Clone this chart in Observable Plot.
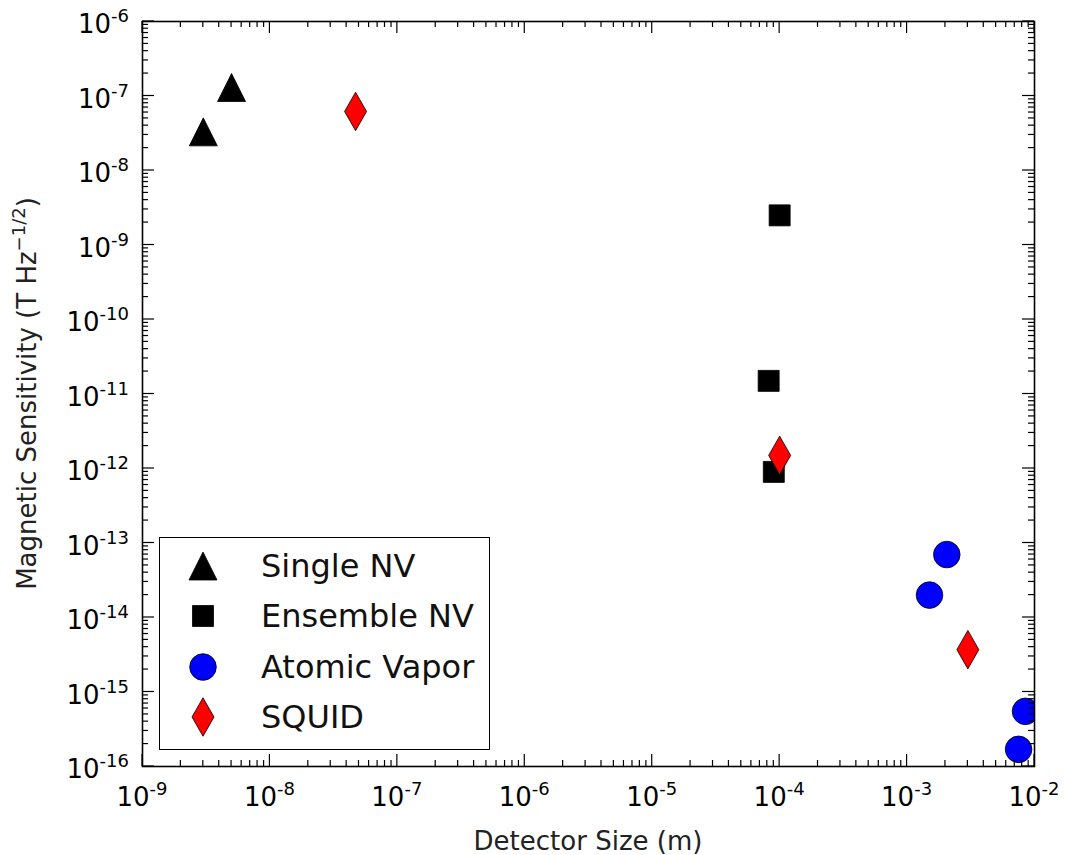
<!DOCTYPE html>
<html>
<head>
<meta charset="utf-8">
<script src="https://cdn.jsdelivr.net/npm/d3@7"></script>
<script src="https://cdn.jsdelivr.net/npm/@observablehq/plot@0.6"></script>
<style>
  body { margin: 0; background: #fff; font-family: "DejaVu Sans", sans-serif; }
  #wrap { position: relative; width: 1065px; height: 855px; }
  #legend { position: absolute; left: 159px; top: 537px; width: 331px; height: 213px;
            box-sizing: border-box; border: 1.5px solid #000; background: #fff; }
</style>
</head>
<body>
<div id="wrap"><div id="legend"></div></div>
<script>
// ---------------- data ----------------
const seriesNames = ["Single NV", "Ensemble NV", "Atomic Vapor", "SQUID"];
const singleX   = [3.0e-9, 5.0e-9];
const singleY   = [3.3e-8, 1.3e-7];
const ensembleX = [1.0e-4, 8.2e-5, 9.0e-5];
const ensembleY = [2.5e-9, 1.5e-11, 9.0e-13];
const vaporX    = [2.05e-3, 1.5e-3, 8.5e-3, 7.5e-3];
const vaporY    = [7.0e-14, 2.0e-14, 5.5e-16, 1.7e-16];
const squidX    = [4.7e-8, 1.0e-4, 3.0e-3];
const squidY    = [6.2e-8, 1.5e-12, 3.7e-15];
const xExponents = [-9, -8, -7, -6, -5, -4, -3, -2];
const yExponents = [-16, -15, -14, -13, -12, -11, -10, -9, -8, -7, -6];
const xLabel = "Detector Size (m)";
const yLabelMain = "Magnetic Sensitivity (T Hz";
const yLabelSup = "\u22121/2";

const toRows = (xs, ys) => xs.map((x, i) => ({x, y: ys[i]}));
const single = toRows(singleX, singleY);
const ensemble = toRows(ensembleX, ensembleY);
const vapor = toRows(vaporX, vaporY);
const squid = toRows(squidX, squidY);

// ---------------- symbols (matplotlib-like) ----------------
const rad = (size) => Math.sqrt(size / Math.PI);
const triangleSym = {draw(c, size) { const r = rad(size); c.moveTo(0, -r); c.lineTo(r, r); c.lineTo(-r, r); c.closePath(); }};
const squareSym   = {draw(c, size) { const r = rad(size); c.rect(-r, -r, 2 * r, 2 * r); }};
const circleSym   = {draw(c, size) { const r = rad(size); c.moveTo(r, 0); c.arc(0, 0, r, 0, 2 * Math.PI); }};
const diamondSym  = {draw(c, size) { const r = rad(size); c.moveTo(0, -1.75 * r); c.lineTo(r, 0); c.lineTo(0, 1.75 * r); c.lineTo(-r, 0); c.closePath(); }};
const styles = [
  {sym: triangleSym, r: 14,   fill: "#000000"},
  {sym: squareSym,   r: 10.5, fill: "#000000"},
  {sym: circleSym,   r: 13.3, fill: "#0000ff"},
  {sym: diamondSym,  r: 11,   fill: "#ff0000"}
];

// ---------------- ticks ----------------
const xMajor = xExponents.map(e => Math.pow(10, e));
const yMajor = yExponents.map(e => Math.pow(10, e));
const minorOf = (exps) => exps.slice(0, -1).flatMap(e => d3.range(2, 10).map(k => k * Math.pow(10, e)));
const xMinor = minorOf(xExponents);
const yMinor = minorOf(yExponents);

const FONT = "DejaVu Sans";
function axesMark(index, scales, values, dim) {
  const {x, y} = scales;
  const L = dim.marginLeft, R = dim.width - dim.marginRight;
  const T = dim.marginTop, B = dim.height - dim.marginBottom;
  const g = d3.create("svg:g");
  const t = g.append("g").attr("stroke", "#000").attr("stroke-width", 1.2);
  const MAJ = 12, MIN = 6;
  const vt = (v, len) => {
    const px = x(v);
    t.append("line").attr("x1", px).attr("x2", px).attr("y1", B).attr("y2", B - len);
    t.append("line").attr("x1", px).attr("x2", px).attr("y1", T).attr("y2", T + len);
  };
  const ht = (v, len) => {
    const py = y(v);
    t.append("line").attr("y1", py).attr("y2", py).attr("x1", L).attr("x2", L + len);
    t.append("line").attr("y1", py).attr("y2", py).attr("x1", R).attr("x2", R - len);
  };
  xMajor.forEach(v => vt(v, MAJ)); xMinor.forEach(v => vt(v, MIN));
  yMajor.forEach(v => ht(v, MAJ)); yMinor.forEach(v => ht(v, MIN));

  const lab = g.append("g").attr("font-family", FONT).attr("fill", "#000");
  xExponents.forEach(e => {
    const tx = lab.append("text").attr("x", x(Math.pow(10, e))).attr("y", B + 40)
      .attr("text-anchor", "middle").attr("font-size", 26);
    tx.append("tspan").text("10");
    tx.append("tspan").attr("dy", -11).attr("font-size", 18).text(String(e));
  });
  yExponents.forEach(e => {
    const tx = lab.append("text").attr("x", L - 13).attr("y", y(Math.pow(10, e)) + 12)
      .attr("text-anchor", "end").attr("font-size", 26);
    tx.append("tspan").text("10");
    tx.append("tspan").attr("dy", -11).attr("font-size", 18).text(String(e));
  });
  lab.append("text").attr("x", (L + R) / 2).attr("y", dim.height - 5)
    .attr("text-anchor", "middle").attr("font-size", 26).attr("fill", "#222").text(xLabel);
  const yl = lab.append("text").attr("transform", `translate(${L - 106},${(T + B) / 2}) rotate(-90)`)
    .attr("text-anchor", "middle").attr("font-size", 26).attr("fill", "#222");
  yl.append("tspan").text(yLabelMain);
  yl.append("tspan").attr("dy", -11).attr("font-size", 18).text(yLabelSup);
  yl.append("tspan").attr("dy", 11).text(")");
  return g.node();
}

const dots = [single, ensemble, vapor, squid].map((d, i) =>
  Plot.dot(d, {x: "x", y: "y", symbol: styles[i].sym, r: styles[i].r, fill: styles[i].fill,
               stroke: "#000", strokeWidth: 0.8, clip: true}));

const chart = Plot.plot({
  width: 1065,
  height: 855,
  marginLeft: 142,
  marginRight: 31,
  marginTop: 21,
  marginBottom: 89,
  style: {background: "#fff", fontFamily: FONT},
  x: {type: "log", domain: [1e-9, 1e-2], axis: null},
  y: {type: "log", domain: [1e-16, 1e-6], axis: null},
  marks: [
    ...dots,
    axesMark,
    Plot.frame({stroke: "#000", strokeWidth: 1.6})
  ]
});
document.getElementById("wrap").prepend(chart);

// ---------------- legend ----------------
const leg = d3.select("#legend").append("svg").attr("width", 328).attr("height", 210)
  .style("position", "absolute").style("left", "0").style("top", "0");
const rowY = [28, 78, 129, 179];
seriesNames.forEach((name, i) => {
  const s = styles[i];
  const p = d3.path();
  s.sym.draw(p, s.r * s.r * Math.PI);
  leg.append("path").attr("d", p.toString()).attr("transform", `translate(43,${rowY[i]})`)
    .attr("fill", s.fill).attr("stroke", "#000").attr("stroke-width", 0.8);
  leg.append("text").attr("x", 101).attr("y", rowY[i] + 11).attr("font-family", FONT)
    .attr("font-size", 32).attr("fill", "#111").text(name);
});
</script>
</body>
</html>
